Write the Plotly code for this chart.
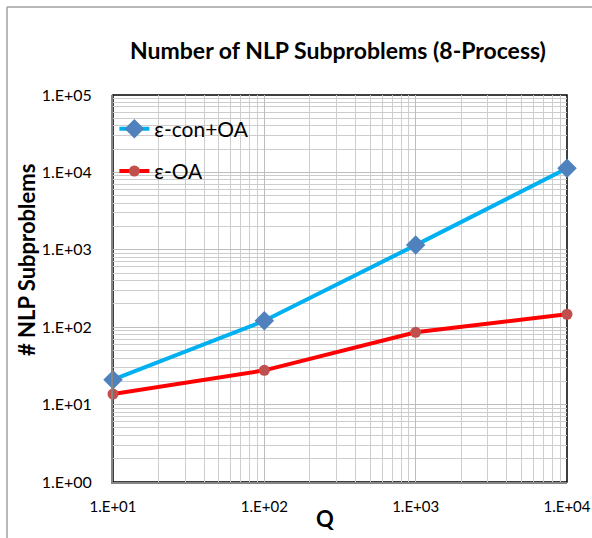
import plotly.graph_objects as go

q_values = [10, 100, 1000, 10000]
econ_oa = [21, 121, 1150, 11300]
e_oa = [13.7, 27.7, 86, 147]
y_tickvals = [1, 10, 100, 1000, 10000, 100000]
y_ticktext = ["1.E+00", "1.E+01", "1.E+02", "1.E+03", "1.E+04", "1.E+05"]
x_tickvals = [10, 100, 1000, 10000]
x_ticktext = ["1.E+01", "1.E+02", "1.E+03", "1.E+04"]

FONT = "Lato"
W, H = 592, 538
L, R, T, B = 113, 25, 95, 56
PW, PH = W - L - R, H - T - B

def px_x(px):
    return (px - L) / PW

def px_y(py):
    return (H - B - py) / PH

fig = go.Figure()
fig.add_trace(go.Scatter(
    x=q_values, y=econ_oa, name="ε-con+OA", mode="lines+markers",
    line=dict(color="#00B0F0", width=4),
    marker=dict(symbol="diamond", size=15, color="#4F81BD"),
    legendgroup="a", cliponaxis=False))
fig.add_trace(go.Scatter(
    x=q_values, y=e_oa, name="ε-OA", mode="lines+markers",
    line=dict(color="#FF0000", width=4),
    marker=dict(symbol="circle", size=11, color="#C0504D"),
    legendgroup="b", cliponaxis=False))

grid = "#CDCDCD"
fig.update_xaxes(
    type="log", range=[1, 4], tickvals=x_tickvals, ticktext=x_ticktext,
    showgrid=True, gridcolor="#BDBDBD", gridwidth=1,
    minor=dict(dtick="D1", showgrid=True, gridcolor=grid, gridwidth=1, ticks=""),
    showline=True, linecolor="#868686", linewidth=2, zeroline=False,
    ticks="", ticklabelstandoff=10, ticklabeloverflow="allow",
    tickfont=dict(family=FONT, size=15, color="#000"))
fig.update_yaxes(
    type="log", range=[0, 5], tickvals=y_tickvals, ticktext=y_ticktext,
    showgrid=True, gridcolor="#BDBDBD", gridwidth=1,
    minor=dict(dtick="D1", showgrid=True, gridcolor=grid, gridwidth=1, ticks=""),
    showline=True, linecolor="#868686", linewidth=2, zeroline=False,
    ticks="", ticklabelstandoff=16,
    tickfont=dict(family=FONT, size=16, color="#000"))

fig.update_layout(
    width=W, height=H,
    margin=dict(l=L, r=R, t=T, b=B, autoexpand=False),
    paper_bgcolor="white", plot_bgcolor="white",
    title=dict(text="<b>Number of NLP Subproblems (8-Process)</b>",
               font=dict(family=FONT, size=23, color="#000"),
               x=338 / W, xanchor="center", y=1 - 51 / H, yanchor="middle"),
    legend=dict(x=0.003, y=0.965, xanchor="left", yanchor="top",
                bgcolor="rgba(0,0,0,0)", font=dict(family=FONT, size=21, color="#000"),
                tracegroupgap=12, itemwidth=30),
    showlegend=True,
    annotations=[
        dict(text="<b>Q</b>", xref="paper", yref="paper", x=px_x(325), y=px_y(518),
             xanchor="center", yanchor="middle", showarrow=False,
             font=dict(family=FONT, size=22, color="#000")),
        dict(text="<b># NLP Subproblems</b>", xref="paper", yref="paper", x=px_x(26), y=px_y(260),
             xanchor="center", yanchor="middle", showarrow=False, textangle=-90,
             font=dict(family=FONT, size=22, color="#000")),
    ],
    shapes=[
        dict(type="rect", xref="paper", yref="paper", x0=0, x1=1, y0=0, y1=1,
             line=dict(color="#000", width=1.5), layer="below"),
        dict(type="line", xref="paper", yref="paper",
             x0=px_x(7), x1=px_x(7), y0=px_y(H), y1=px_y(7),
             line=dict(color="#A0A0A0", width=1.5)),
        dict(type="line", xref="paper", yref="paper",
             x0=px_x(7), x1=px_x(W), y0=px_y(7), y1=px_y(7),
             line=dict(color="#A0A0A0", width=1.5)),
    ],
)

fig.write_html("out.html")
